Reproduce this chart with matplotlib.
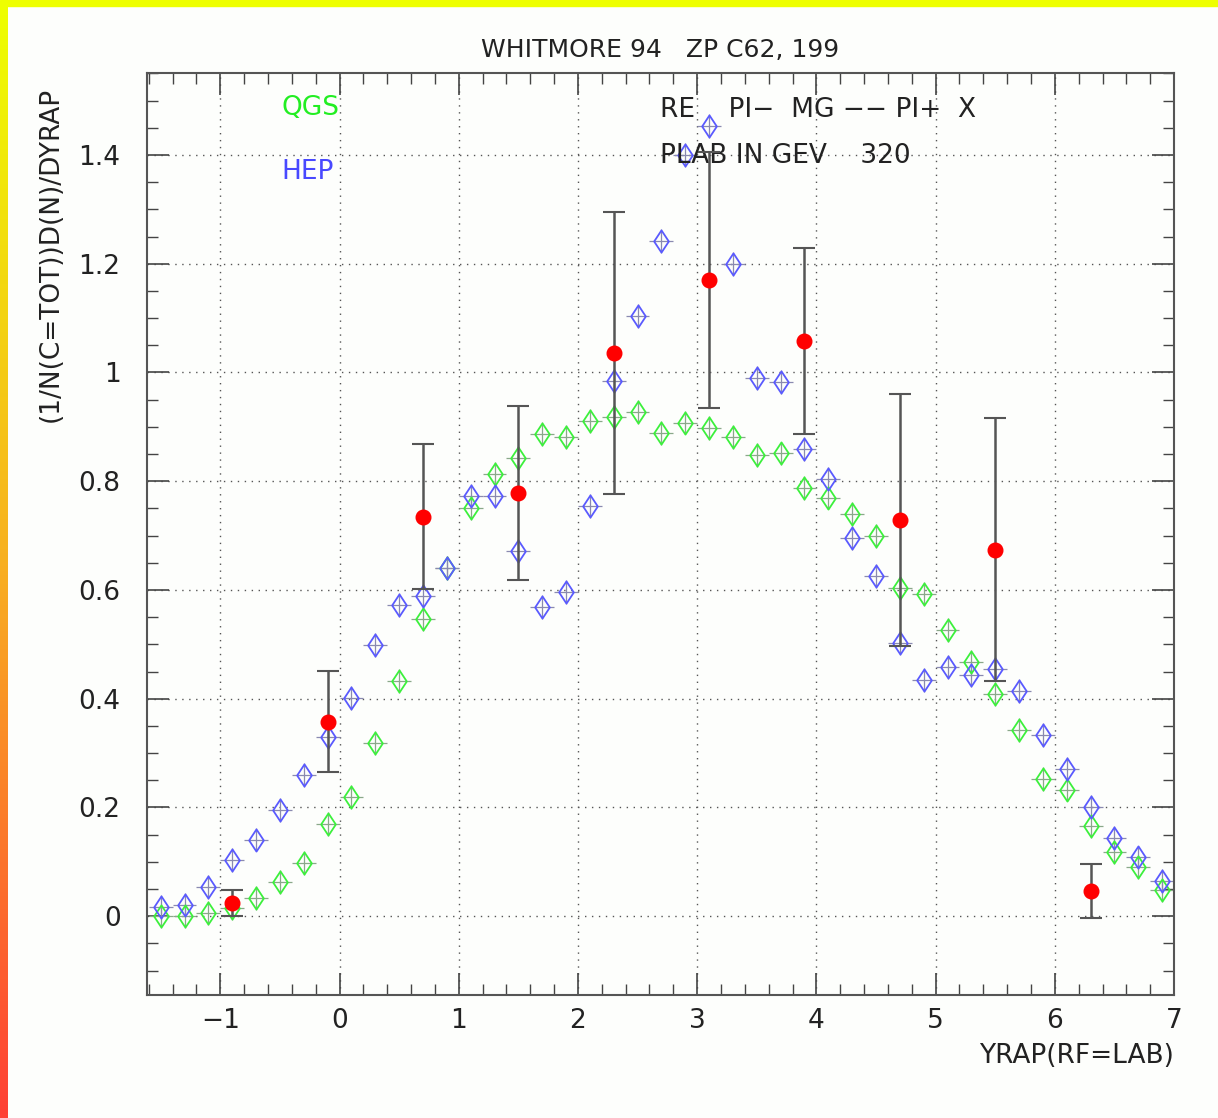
import numpy as np
import matplotlib.pyplot as plt
from matplotlib.ticker import MultipleLocator
from matplotlib.path import Path

plt.rcParams['font.family'] = ['DejaVu Sans']

# rapidity bins (centres) for the two model curves
yrap = np.round(np.arange(-1.5, 7.0, 0.2), 1)

qgs = [0.0, 0.0, 0.006, 0.015, 0.033, 0.063, 0.098, 0.17, 0.22, 0.318,
       0.432, 0.546, 0.641, 0.751, 0.814, 0.843, 0.887, 0.882, 0.911, 0.918,
       0.928, 0.889, 0.908, 0.898, 0.882, 0.849, 0.851, 0.788, 0.770, 0.739,
       0.700, 0.603, 0.593, 0.527, 0.467, 0.408, 0.342, 0.252, 0.233, 0.166,
       0.118, 0.090, 0.048]

hep = [0.017, 0.020, 0.053, 0.103, 0.141, 0.195, 0.259, 0.329, 0.402, 0.498,
       0.573, 0.588, 0.641, 0.773, 0.773, 0.671, 0.568, 0.597, 0.755, 0.985,
       1.104, 1.242, 1.400, 1.454, 1.200, 0.990, 0.983, 0.860, 0.805, 0.696,
       0.625, 0.503, 0.435, 0.459, 0.443, 0.454, 0.415, 0.333, 0.270, 0.200,
       0.144, 0.108, 0.065]

# measured points (Whitmore 94)
data_x = [-0.9, -0.1, 0.7, 1.5, 2.3, 3.1, 3.9, 4.7, 5.5, 6.3]
data_y = [0.025, 0.358, 0.735, 0.779, 1.036, 1.170, 1.058, 0.729, 0.674, 0.046]
data_err = [0.024, 0.093, 0.133, 0.160, 0.260, 0.235, 0.171, 0.232, 0.242, 0.050]

# narrow diamond used for the model histograms
diamond = Path([(0, -1), (0.66, 0), (0, 1), (-0.66, 0), (0, -1)],
               [Path.MOVETO, Path.LINETO, Path.LINETO, Path.LINETO, Path.CLOSEPOLY])

fig = plt.figure(figsize=(12.18, 11.18), dpi=100, facecolor='#fdfefc')
ax = fig.add_axes([0.1207, 0.110, 0.8432, 0.8243])
ax.set_facecolor('#fdfefc')

for vals, col, ecol in [(qgs, '#3cf03c', '#8aa88a'), (hep, '#5a5aff', '#8a8ab0')]:
    ax.errorbar(yrap, vals, xerr=0.1, yerr=0.022, fmt='none', ecolor=ecol,
                elinewidth=0.9, capsize=0, zorder=2)
    ax.plot(yrap, vals, linestyle='none', marker=diamond, markersize=16,
            markerfacecolor='none', markeredgecolor=col, markeredgewidth=1.3,
            zorder=3)

ax.errorbar(data_x, data_y, yerr=data_err, fmt='o', color='#ff0000',
            markersize=10.5, ecolor='#555555', elinewidth=1.8, capsize=8,
            capthick=1.5, zorder=4)

ax.set_xlim(-1.615, 7.0)
ax.set_ylim(-0.145, 1.55)
ax.xaxis.set_minor_locator(MultipleLocator(0.2))
ax.yaxis.set_minor_locator(MultipleLocator(0.05))
ax.set_xticks(range(-1, 8))
ax.set_xticklabels(['\u22121', '0', '1', '2', '3', '4', '5', '6', '7'])
ax.set_yticks([0, 0.2, 0.4, 0.6, 0.8, 1.0, 1.2, 1.4])
ax.set_yticklabels(['0', '0.2', '0.4', '0.6', '0.8', '1', '1.2', '1.4'])

ax.tick_params(which='both', direction='in', top=True, right=True,
               colors='#444444', labelcolor='#222222', labelsize=19)
ax.tick_params(which='major', length=16, width=1.2)
ax.tick_params(axis='y', which='major', pad=19)
ax.tick_params(axis='x', which='major', pad=9)
ax.tick_params(which='minor', length=8, width=1.0)
for sp in ax.spines.values():
    sp.set_color('#555555')
    sp.set_linewidth(1.5)

ax.grid(True, which='major', linestyle=(0, (1, 4)), color='#555555',
        linewidth=1.0)

ax.text(0.5, 1.012, 'WHITMORE 94   ZP C62, 199', transform=ax.transAxes,
        ha='center', va='bottom', fontsize=18, color='#222222')
ax.text(-0.094, 0.985, '(1/N(C=TOT))D(N)/DYRAP', transform=ax.transAxes,
        rotation=90, ha='center', va='top', fontsize=19, color='#222222')
ax.text(1.0, -0.052, 'YRAP(RF=LAB)', transform=ax.transAxes,
        ha='right', va='top', fontsize=19, color='#222222')

ax.text(-0.49, 1.487, 'QGS', ha='left', va='center', fontsize=19, color='#22ee22')
ax.text(-0.49, 1.368, 'HEP', ha='left', va='center', fontsize=19, color='#4848ff')
ax.text(2.69, 1.482, 'RE    PI\u2212  MG \u2212\u2212 PI+  X', ha='left',
        va='center', fontsize=19, color='#222222')
ax.text(2.69, 1.398, 'PLAB IN GEV    320', ha='left', va='center',
        fontsize=19, color='#222222')

# coloured frame: yellow strip on top, yellow-to-red strip on the left
fig.patches.append(plt.Rectangle((0, 1 - 6 / 1118), 1, 6 / 1118,
                                 transform=fig.transFigure, color='#eeff00',
                                 zorder=10))
grad = np.linspace(0, 1, 256).reshape(-1, 1)
cax = fig.add_axes([0, 0, 8 / 1218, 1 - 6 / 1118])
cax.imshow(grad, aspect='auto', origin='upper',
           cmap=plt.matplotlib.colors.LinearSegmentedColormap.from_list(
               'frame', ['#eeff00', '#f8b020', '#ff4035']))
cax.axis('off')

fig.savefig('out.png', dpi=100, facecolor=fig.get_facecolor())
